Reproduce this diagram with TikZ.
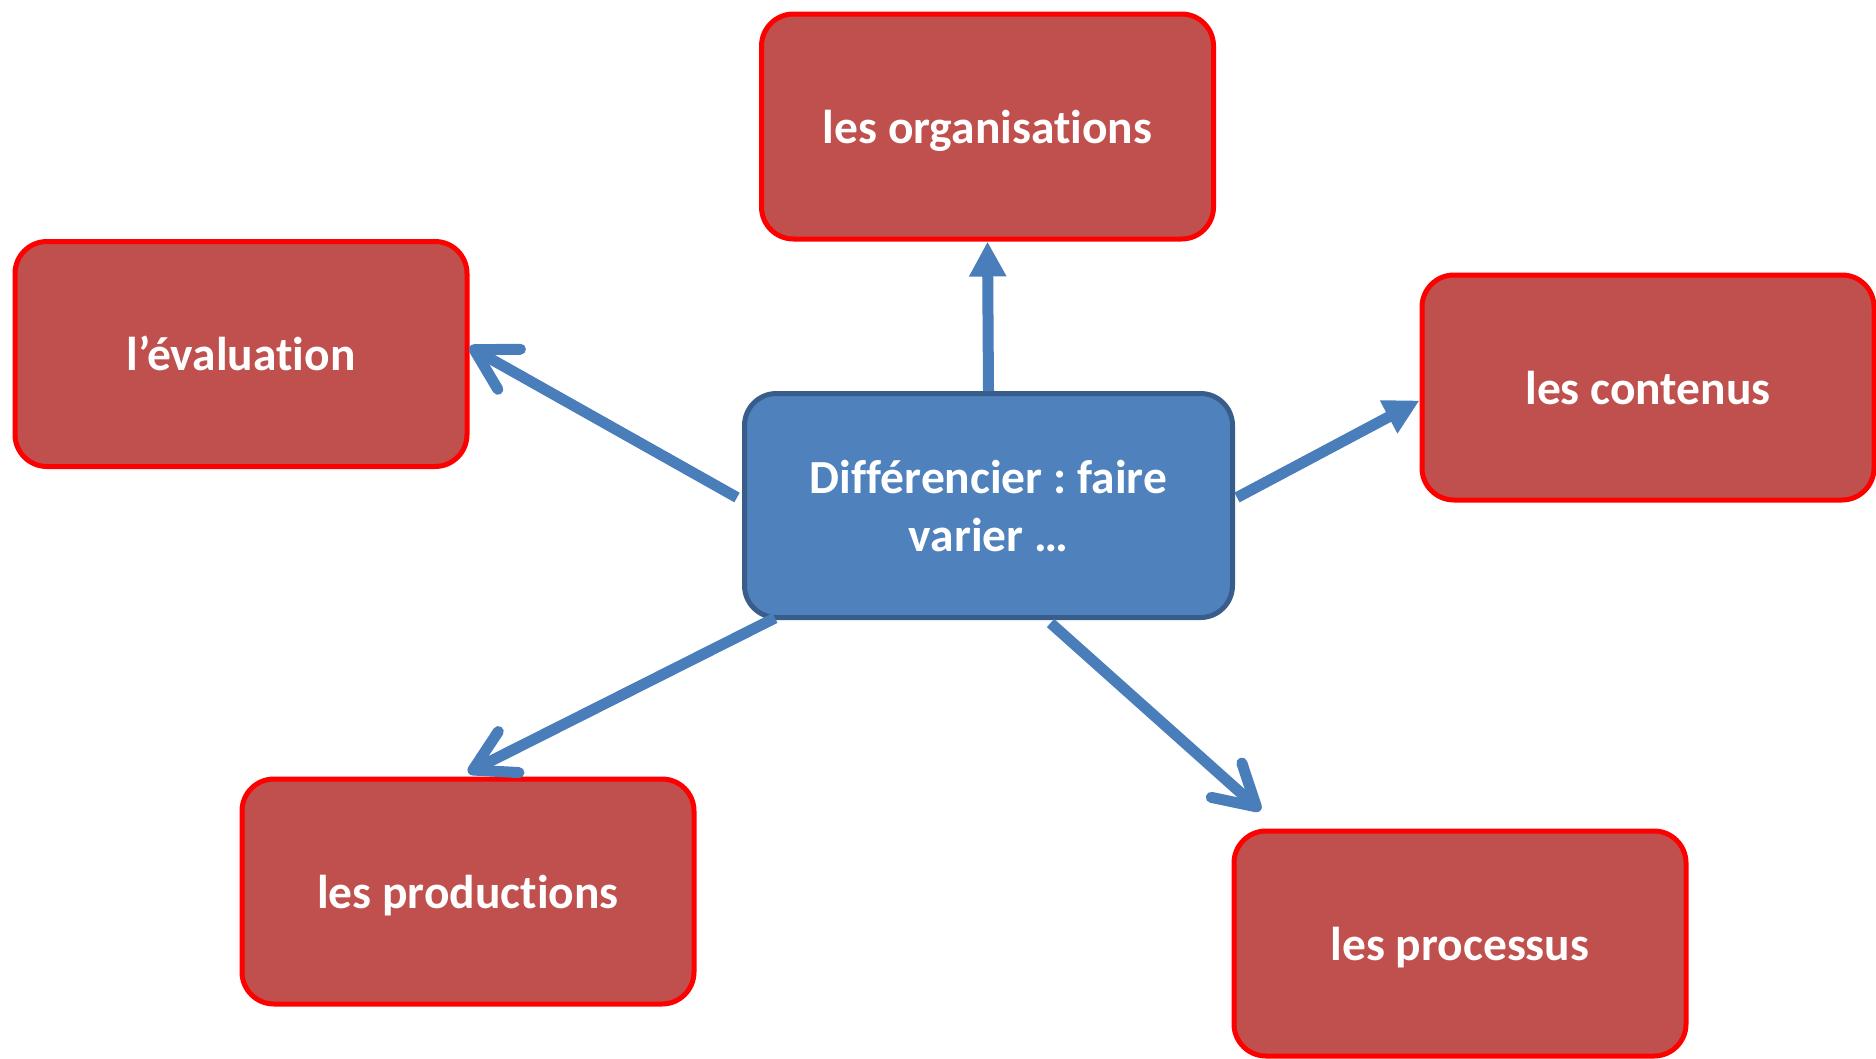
\documentclass[tikz,border=0pt]{standalone}
\usepackage{fontspec}
\setmainfont{Carlito}[Ligatures=NoCommon]
\usetikzlibrary{arrows.meta}
\definecolor{boxred}{HTML}{C0504D}
\definecolor{edgered}{HTML}{FF0000}
\definecolor{midblue}{HTML}{4F81BD}
\definecolor{edgeblue}{HTML}{385D8A}
\definecolor{arrowblue}{HTML}{4A7EBB}
\tikzset{
  redbox/.style={draw=edgered, fill=boxred, line width=5pt, rounded corners=32pt,
    minimum width=452pt, minimum height=225pt, text=white,
    font=\fontsize{47.5}{58}\selectfont\bfseries, inner sep=0pt,
    text height=40pt, text depth=7pt},
  centrebox/.style={draw=edgeblue, fill=midblue, line width=5pt, rounded corners=32pt,
    minimum width=488pt, minimum height=224pt, text=white, align=center,
    font=\fontsize{47.5}{58}\selectfont\bfseries, inner sep=0pt},
  filledarrow/.style={draw=arrowblue, line width=11pt, -{Triangle[length=35pt,width=35pt]}},
  barbarrow/.style={draw=arrowblue, line width=11pt, -{Straight Barb[round,length=40pt,width=46pt]}}
}
\begin{document}
\frenchspacing
\begin{tikzpicture}[x=1pt,y=-1pt]
\useasboundingbox (0,0) rectangle (1876,1058);
\node[redbox] (org) at (987.5,126.5) {les organisations};
\node[redbox] (eva) at (241,354) {l’évaluation};
\node[redbox] (con) at (1648,387.5) {les contenus};
\node[redbox] (pro) at (468,891.5) {les productions};
\node[redbox] (prc) at (1460,943.5) {les processus};
\node[centrebox] (c) at (988.5,505.5) {Différencier : faire\\varier …};
\draw[filledarrow] (c.north) -- (org.south);
\draw[filledarrow] ([xshift=2pt,yshift=8pt]c.east) -- ([yshift=-13pt]con.west);
\draw[barbarrow] ([xshift=-5pt,yshift=8pt]c.west) -- ([yshift=7pt]eva.east);
\draw[barbarrow] ([xshift=33pt,yshift=2pt]c.south west) -- ([yshift=4pt]pro.north);
\draw[barbarrow] ([xshift=62pt,yshift=-3pt]c.south) -- ([xshift=29pt,yshift=18pt]prc.north west);
\end{tikzpicture}
\end{document}
